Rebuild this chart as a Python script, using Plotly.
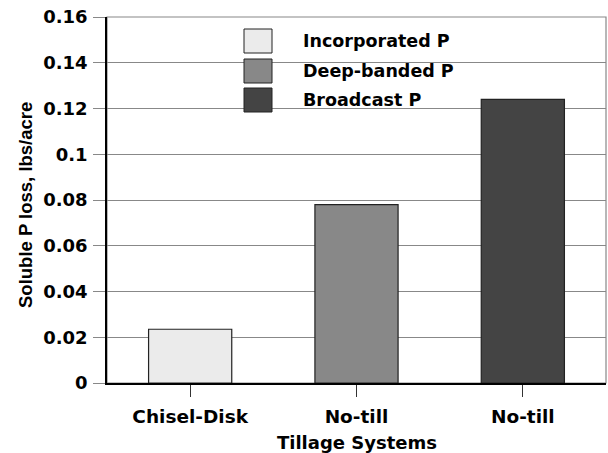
import plotly.graph_objects as go

categories = ["Chisel-Disk", "No-till", "No-till"]
series_names = ["Incorporated P", "Deep-banded P", "Broadcast P"]
values = [0.0235, 0.078, 0.124]
colors = ["#ebebeb", "#888888", "#444444"]
y_ticks = [0, 0.02, 0.04, 0.06, 0.08, 0.1, 0.12, 0.14, 0.16]
y_tick_labels = ["0", "0.02", "0.04", "0.06", "0.08", "0.1", "0.12", "0.14", "0.16"]

FONT = "DejaVu Sans, sans-serif"
FONT2 = "Liberation Sans, Arial, sans-serif"

L, R, T, B = 107, 2, 17, 70
W, H = 608, 453
H_plot = H - T - B
W_plot = W - L - R

fig = go.Figure()
for i, (name, val, col) in enumerate(zip(series_names, values, colors)):
    fig.add_trace(go.Bar(
        x=[i], y=[val], name=name, width=0.5,
        marker=dict(color=col, line=dict(color="#222222", width=1.2)),
        showlegend=False,
    ))

# plot-area frame (grey top/right)
fig.add_shape(type="rect", xref="paper", yref="paper", x0=0, x1=1, y0=0, y1=1,
              line=dict(color="#888888", width=1.2), layer="below")

# custom legend (large swatches like the reference)
leg_x0, leg_x1 = (244 - L) / W_plot, (272 - L) / W_plot
row_tops = [29, 59, 88]
sw_h = 24
for name, col, top in zip(series_names, colors, row_tops):
    y1 = 1 - (top - T) / H_plot
    y0 = 1 - (top + sw_h - T) / H_plot
    fig.add_shape(type="rect", xref="paper", yref="paper",
                  x0=leg_x0, x1=leg_x1, y0=y0, y1=y1,
                  fillcolor=col, line=dict(color="#222222", width=1))
    fig.add_annotation(xref="paper", yref="paper", x=(301 - L) / W_plot, y=(y0 + y1) / 2,
                       text=name, showarrow=False, xanchor="left", yanchor="middle",
                       font=dict(family=FONT, size=17.5, color="#000000", weight="bold"))

# axis titles
fig.add_annotation(xref="paper", yref="paper", x=(25 - L) / W_plot, y=1 - (205 - T) / H_plot,
                   text="Soluble P loss, lbs/acre", textangle=-90, showarrow=False,
                   xanchor="center", yanchor="middle",
                   font=dict(family=FONT2, size=18.5, color="#000000", weight="bold"))
fig.add_annotation(xref="paper", yref="paper", x=0.5, y=-(442 - (H - B)) / H_plot,
                   text="Tillage Systems", showarrow=False,
                   xanchor="center", yanchor="middle",
                   font=dict(family=FONT, size=18, color="#000000", weight="bold"))

fig.update_layout(
    width=W, height=H,
    margin=dict(l=L, r=R, t=T, b=B),
    paper_bgcolor="white", plot_bgcolor="white",
    barmode="overlay",
    font=dict(family=FONT, size=18, color="#000000", weight="bold"),
    xaxis=dict(
        range=[-0.5, 2.5], automargin=False,
        tickmode="array", tickvals=[0, 1, 2], ticktext=categories,
        ticks="outside", ticklen=12, tickwidth=1, tickcolor="#333333",
        ticklabelstandoff=4,
        showline=True, linecolor="#000000", linewidth=1.5,
        showgrid=False, zeroline=False,
        tickfont=dict(family=FONT, size=18.5, weight="bold"),
    ),
    yaxis=dict(
        range=[0, 0.16], automargin=False,
        tickmode="array", tickvals=y_ticks, ticktext=y_tick_labels,
        ticks="outside", ticklen=12, tickwidth=1, tickcolor="#888888",
        ticklabelstandoff=2,
        showline=True, linecolor="#000000", linewidth=1.5,
        showgrid=True, gridcolor="#888888", gridwidth=1,
        zeroline=False,
        tickfont=dict(family=FONT, size=18, weight="bold"),
    ),
)

fig.write_html("out.html", config={"displayModeBar": False},
               post_script="document.body.style.margin='0';document.body.style.padding='0';")
